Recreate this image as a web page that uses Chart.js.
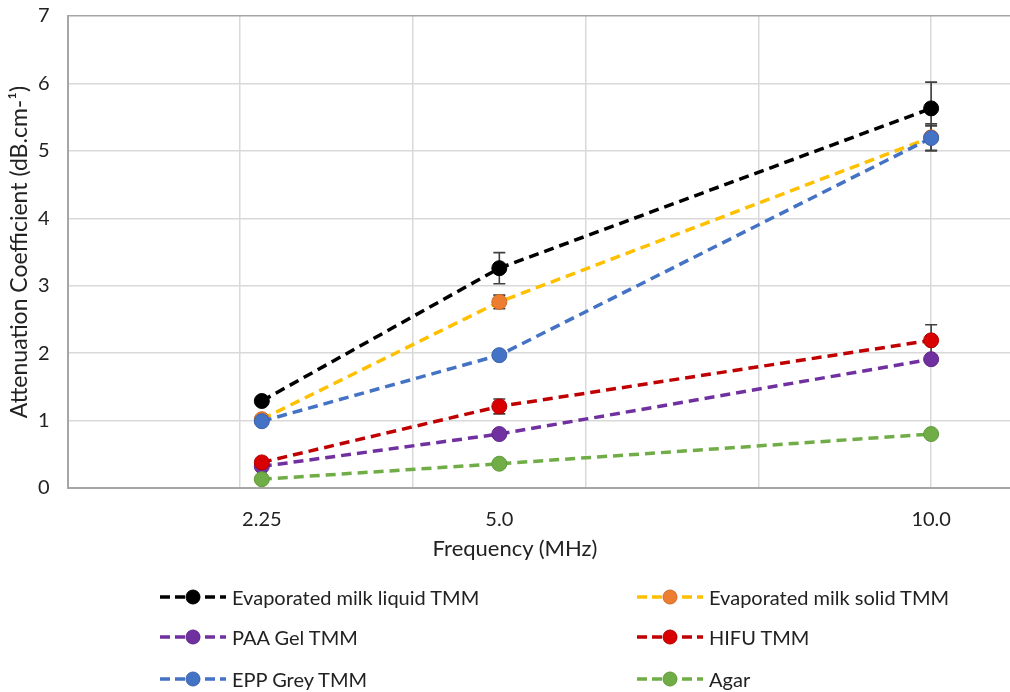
<!DOCTYPE html>
<html>
<head>
<meta charset="utf-8">
<script src="https://cdn.jsdelivr.net/npm/chart.js@4/dist/chart.umd.min.js"></script>
<style>
  html, body { margin: 0; padding: 0; background: #fff; overflow: hidden; width: 1010px; height: 692px; }
  #wrap { position: absolute; left: 0; top: 0; width: 1026px; height: 692px; }
  .txt { position: absolute; font-family: Lato, "Liberation Sans", sans-serif; color: #222; white-space: nowrap; }
  #xtitle { font-size: 22px; left: 515px; top: 547px; transform: translate(-50%, -50%); }
  .leg { position: absolute; display: flex; align-items: center; height: 24px; transform: translateY(-50%); font-family: Lato, "Liberation Sans", sans-serif; font-size: 20px; color: #222; white-space: nowrap; }
  .leg svg { margin-right: 6px; }
</style>
</head>
<body>
<div id="wrap"><canvas id="c" width="1026" height="692"></canvas></div>
<div id="xtitle" class="txt">Frequency (MHz)</div>
<div id="legend"></div>
<script>
// ---- data ----
const frequencies = [2.25, 5.0, 10.0];
const freqLabels = ['2.25', '5.0', '10.0'];
const yTicks = [0, 1, 2, 3, 4, 5, 6, 7];
const xGridValues = [0, 2, 4, 6, 8, 10];

const seriesNames = ['Evaporated milk liquid TMM', 'Evaporated milk solid TMM', 'PAA Gel TMM', 'HIFU TMM', 'EPP Grey TMM', 'Agar'];
const milkLiquid = [1.29, 3.26, 5.63];
const milkLiquidErr = [0.06, 0.23, 0.39];
const milkSolid = [1.02, 2.76, 5.20];
const milkSolidErr = [0.03, 0.10, 0.20];
const paaGel = [0.32, 0.80, 1.91];
const paaGelErr = [0.03, 0.03, 0.06];
const hifu = [0.38, 1.21, 2.19];
const hifuErr = [0.03, 0.11, 0.23];
const eppGrey = [0.99, 1.97, 5.19];
const eppGreyErr = [0.03, 0.03, 0.18];
const agar = [0.13, 0.36, 0.80];
const agarErr = [0.02, 0.02, 0.05];

const seriesValues = [milkLiquid, milkSolid, paaGel, hifu, eppGrey, agar];
const seriesErrors = [milkLiquidErr, milkSolidErr, paaGelErr, hifuErr, eppGreyErr, agarErr];
const lineColors = ['#000000', '#FFC000', '#7030A0', '#C00000', '#4472C4', '#70AD47'];
const markerColors = ['#000000', '#ED7D31', '#7030A0', '#D80000', '#4472C4', '#70AD47'];
const markerBorders = ['#000000', '#D06A25', '#5E2688', '#B00000', '#3A62AA', '#5F9A3B'];

const FONT = 'Lato, "Liberation Sans", sans-serif';

const datasets = seriesNames.map((name, i) => ({
  label: name,
  data: frequencies.map((f, j) => ({ x: f, y: seriesValues[i][j] })),
  errors: seriesErrors[i],
  borderColor: lineColors[i],
  backgroundColor: markerColors[i],
  pointBackgroundColor: markerColors[i],
  pointBorderColor: markerBorders[i],
  pointBorderWidth: 1,
  pointRadius: 7.5,
  borderWidth: 3.5,
  borderDash: [10, 6],
  fill: false,
  tension: 0,
  order: seriesNames.length - i
}));

const errorBars = {
  id: 'errorBars',
  beforeDatasetsDraw(chart) {
    const ctx = chart.ctx;
    const ys = chart.scales.y, xs = chart.scales.x;
    ctx.save();
    ctx.strokeStyle = '#404040';
    ctx.lineWidth = 1.6;
    chart.data.datasets.forEach(ds => {
      ds.data.forEach((p, j) => {
        const e = ds.errors[j];
        const px = xs.getPixelForValue(p.x);
        const top = ys.getPixelForValue(p.y + e);
        const bot = ys.getPixelForValue(p.y - e);
        ctx.beginPath();
        ctx.moveTo(px, top); ctx.lineTo(px, bot);
        ctx.moveTo(px - 6, top); ctx.lineTo(px + 6, top);
        ctx.moveTo(px - 6, bot); ctx.lineTo(px + 6, bot);
        ctx.stroke();
      });
    });
    ctx.restore();
  }
};

new Chart(document.getElementById('c'), {
  type: 'line',
  data: { datasets },
  options: {
    responsive: false,
    animation: false,
    events: [],
    layout: { padding: { top: 16, right: 0, bottom: 154, left: 0 } },
    plugins: { legend: { display: false }, tooltip: { enabled: false } },
    scales: {
      x: {
        type: 'linear',
        min: 0, max: 11,
        afterBuildTicks(scale) {
          const vals = xGridValues.concat(frequencies).filter((v, k, a) => a.indexOf(v) === k).sort((a, b) => a - b);
          scale.ticks = vals.map(v => ({ value: v }));
        },
        afterFit(scale) { scale.height = 50; },
        grid: {
          drawTicks: false,
          lineWidth: 1.5,
          color: ctx => (ctx.tick && xGridValues.includes(ctx.tick.value)) ? '#D9D9D9' : 'rgba(0,0,0,0)'
        },
        border: { color: '#A6A6A6', width: 2 },
        ticks: {
          autoSkip: false,
          maxRotation: 0,
          padding: 20,
          color: '#222',
          font: { family: FONT, size: 20 },
          callback: v => { const k = frequencies.indexOf(v); return k >= 0 ? freqLabels[k] : ''; }
        }
      },
      y: {
        min: 0, max: 7,
        afterBuildTicks(scale) { scale.ticks = yTicks.map(v => ({ value: v })); },
        afterFit(scale) { scale.width = 67.5; scale.paddingTop = 0; scale.paddingBottom = 0; },
        grid: {
          drawTicks: false,
          lineWidth: 1.5,
          color: ctx => (ctx.tick && ctx.tick.value === 7) ? '#A6A6A6' : '#D9D9D9'
        },
        border: { color: '#A6A6A6', width: 2 },
        ticks: {
          padding: 18,
          color: '#222',
          font: { family: FONT, size: 20 }
        },
        title: {
          display: true,
          text: 'Attenuation Coefficient (dB.cm-¹)',
          color: '#222',
          font: { family: FONT, size: 23 },
          padding: { top: 6, bottom: 0 }
        }
      }
    }
  },
  plugins: [errorBars]
});

// ---- legend (HTML, two columns) ----
const legendCols = [160, 637];
const legendRows = [597, 637, 679];
const legend = document.getElementById('legend');
seriesNames.forEach((name, i) => {
  const col = i % 2, row = Math.floor(i / 2);
  const d = document.createElement('div');
  d.className = 'leg';
  d.style.left = legendCols[col] + 'px';
  d.style.top = legendRows[row] + 'px';
  d.innerHTML =
    '<svg width="66" height="18" viewBox="0 0 66 18">' +
    '<line x1="0" y1="9" x2="66" y2="9" stroke="' + lineColors[i] + '" stroke-width="3.5" stroke-dasharray="10,5"/>' +
    '<circle cx="33" cy="9" r="7" fill="' + markerColors[i] + '" stroke="' + markerBorders[i] + '" stroke-width="1"/>' +
    '</svg><span></span>';
  d.querySelector('span').textContent = name;
  legend.appendChild(d);
});
</script>
</body>
</html>
